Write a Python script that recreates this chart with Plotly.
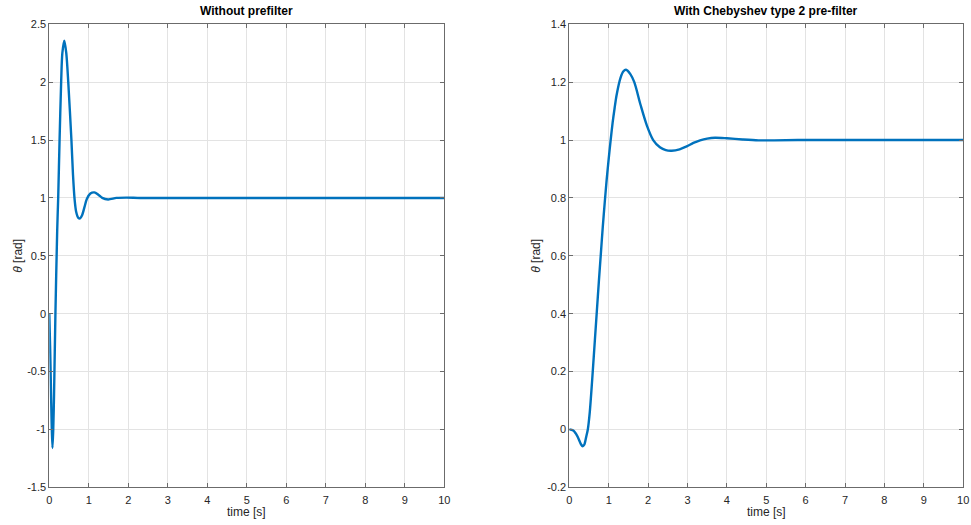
import plotly.graph_objects as go
from plotly.subplots import make_subplots

# Step response of the closed loop without prefilter
t_raw = [0, 0.02, 0.04, 0.06, 0.08, 0.1, 0.12, 0.155, 0.2, 0.225, 0.26, 0.3,
         0.33, 0.38, 0.43, 0.48, 0.56, 0.6, 0.64, 0.68, 0.73, 0.78, 0.83, 0.89,
         0.95, 1.04, 1.14, 1.24, 1.34, 1.49, 1.7, 1.95, 2.3, 3.0, 10.0]
theta_raw = [0, -0.28, -0.62, -0.95, -1.16, -1.0, -0.7, 0.0, 0.72, 1.0, 1.5,
             2.0, 2.25, 2.358, 2.25, 2.0, 1.5, 1.2, 0.99, 0.88, 0.83, 0.823,
             0.85, 0.92, 0.99, 1.038, 1.048, 1.028, 1.0, 0.987, 1.0, 1.003, 1.0,
             1.0, 1.0]

# Step response with the Chebyshev type 2 prefilter
t_filt = [0, 0.1, 0.2, 0.3, 0.34, 0.38, 0.43, 0.47, 0.52, 0.58, 0.65, 0.7, 0.75,
          0.8, 0.85, 0.9, 0.95, 1.0, 1.05, 1.1, 1.15, 1.2, 1.3, 1.37, 1.44,
          1.55, 1.65, 1.81, 1.97, 2.13, 2.3, 2.45, 2.6, 2.8, 2.98, 3.15, 3.32,
          3.5, 3.7, 4.0, 4.4, 4.8, 5.2, 5.8, 10.0]
theta_filt = [0, -0.004, -0.022, -0.052, -0.058, -0.053, -0.025, 0.0, 0.06,
              0.17, 0.31, 0.41, 0.51, 0.605, 0.7, 0.785, 0.865, 0.935, 1.0,
              1.06, 1.11, 1.155, 1.215, 1.237, 1.243, 1.228, 1.2, 1.121, 1.05,
              1.0, 0.975, 0.965, 0.963, 0.968, 0.978, 0.99, 0.999, 1.005, 1.008,
              1.006, 1.002, 0.999, 0.999, 1.0, 1.0]

x_ticks = list(range(0, 11))
y1_ticks = [-1.5, -1, -0.5, 0, 0.5, 1, 1.5, 2, 2.5]
y1_text = ["-1.5", "-1", "-0.5", "0", "0.5", "1", "1.5", "2", "2.5"]
y2_ticks = [-0.2, 0, 0.2, 0.4, 0.6, 0.8, 1, 1.2, 1.4]
y2_text = ["-0.2", "0", "0.2", "0.4", "0.6", "0.8", "1", "1.2", "1.4"]

titles = ["Without prefilter", "With Chebyshev type 2 pre-filter"]
x_label = "time [s]"
y_label = "<i>θ</i> [rad]"

W, H = 971, 525
fig = make_subplots(rows=1, cols=2)

line_style = dict(color="#0072BD", width=2.4, shape="spline", smoothing=0.8)
fig.add_trace(go.Scatter(x=t_raw, y=theta_raw, mode="lines", line=line_style,
                         showlegend=False), row=1, col=1)
fig.add_trace(go.Scatter(x=t_filt, y=theta_filt, mode="lines", line=line_style,
                         showlegend=False), row=1, col=2)

font = "Liberation Sans, Arial, Helvetica, sans-serif"
axis_common = dict(
    showline=True, linecolor="#6b6b6b", linewidth=1, mirror="ticks",
    ticks="inside", ticklen=4, tickcolor="#6b6b6b", automargin=False,
    showgrid=True, gridcolor="#e3e3e3", gridwidth=1, zeroline=False,
    tickfont=dict(family=font, size=11, color="#262626"),
)

x_dom = [(49.3 / W, 444.3 / W), (569.3 / W, 963.2 / W)]
y_dom = (1 - 487.3 / H, 1 - 24.3 / H)
ylabel_x = [18 / W, 536 / W]

for i, (dom, yt, ytx, yr) in enumerate(zip(
        x_dom, [y1_ticks, y2_ticks], [y1_text, y2_text], [[-1.5, 2.5], [-0.2, 1.4]])):
    xa = "xaxis" if i == 0 else "xaxis2"
    ya = "yaxis" if i == 0 else "yaxis2"
    fig.layout[xa].update(domain=list(dom), range=[0, 10], tickvals=x_ticks,
                          ticktext=[str(v) for v in x_ticks], ticklabelstandoff=2,
                          **axis_common)
    fig.layout[ya].update(domain=list(y_dom), range=yr, tickvals=yt, ticktext=ytx,
                          **axis_common)
    cx = (dom[0] + dom[1]) / 2
    fig.add_annotation(text="<b>%s</b>" % titles[i], xref="paper", yref="paper",
                       x=cx, y=1 - 11.5 / H, xanchor="center", yanchor="middle",
                       showarrow=False, font=dict(family=font, size=12, color="#000000"))
    fig.add_annotation(text=x_label, xref="paper", yref="paper",
                       x=cx, y=1 - 512 / H, xanchor="center", yanchor="middle",
                       showarrow=False, font=dict(family=font, size=12, color="#262626"))
    fig.add_annotation(text=y_label, xref="paper", yref="paper", textangle=-90,
                       x=ylabel_x[i], y=(y_dom[0] + y_dom[1]) / 2, xanchor="center",
                       yanchor="middle", showarrow=False,
                       font=dict(family=font, size=12, color="#262626"))

fig.update_layout(width=W, height=H, margin=dict(l=0, r=0, t=0, b=0),
                  paper_bgcolor="white", plot_bgcolor="white")

fig.write_html("out.html")
